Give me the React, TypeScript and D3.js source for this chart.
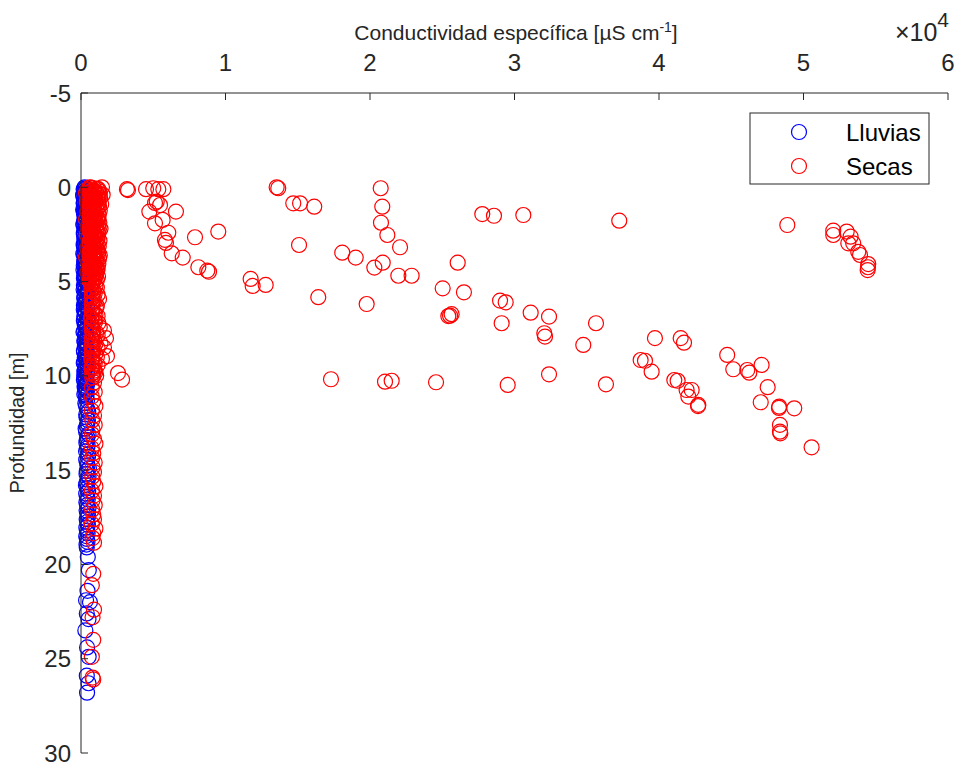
import React from "react";
import * as d3 from "d3";

// ---------- data ----------
// [conductividad específica (µS/cm), profundidad (m)]
const lluvias: [number, number][] = [
  [250,0.0],[180,0.1],[320,0.2],[210,0.3],[400,0.35],[150,0.45],[280,0.55],[350,0.65],[200,0.8],[300,0.9],
  [420,1.0],[240,1.1],[190,1.25],[330,1.35],[260,1.5],[380,1.6],[220,1.75],[300,1.9],[170,2.0],[350,2.1],
  [250,2.25],[410,2.4],[200,2.5],[290,2.65],[360,2.8],[230,2.9],[180,3.05],[320,3.2],[270,3.3],[400,3.45],
  [210,3.6],[300,3.75],[250,3.9],[350,4.0],[190,4.15],[280,4.3],[420,4.45],[230,4.6],[310,4.75],[260,4.9],
  [380,5.05],[200,5.2],[330,5.35],[280,5.5],[450,5.65],[240,5.8],[360,5.95],[300,6.1],[200,6.25],[420,6.4],
  [270,6.55],[350,6.7],[230,6.85],[480,7.0],[310,7.15],[260,7.3],[400,7.45],[220,7.6],[340,7.75],[290,7.9],
  [450,8.05],[250,8.2],[370,8.35],[300,8.5],[200,8.65],[420,8.8],[280,8.95],[350,9.1],[240,9.25],[460,9.4],
  [310,9.55],[260,9.7],[390,9.85],[220,10.0],[340,10.15],[290,10.3],[430,10.45],[250,10.6],[360,10.75],[300,10.9],
  [380,11.05],[420,11.3],[350,11.6],[500,11.9],[380,12.2],[450,12.5],[320,12.8],[520,13.1],[400,13.4],[460,13.7],
  [350,14.0],[480,14.3],[420,14.6],[550,14.9],[380,15.2],[470,15.5],[340,15.8],[500,16.1],[430,16.4],[370,16.7],
  [520,17.0],[450,17.3],[390,17.6],[480,17.9],[420,18.2],[360,18.5],[450,18.8],[400,19.1],[470,19.6],[540,20.3],
  [450,21.4],[350,21.9],[620,22.0],[400,22.6],[520,22.9],[300,23.5],[420,24.4],[530,24.9],[400,25.9],[520,26.3],
  [420,26.8],
  [330,0.05],[220,0.15],[280,0.25],[160,0.4],[360,0.5],[240,0.6],[300,0.72],[180,0.85],[390,0.95],[260,1.05],
  [150,1.18],[340,1.3],[210,1.42],[290,1.55],[400,1.68],[230,1.8],[170,1.95],[320,2.05],[260,2.18],[380,2.3],
  [190,2.42],[300,2.58],[230,2.72],[410,2.85],[280,2.98],[200,3.12],[350,3.25],[240,3.38],[160,3.52],[310,3.68],
  [380,3.82],[220,3.95],[280,4.08],[340,4.22],[170,4.38],[360,4.52],[250,4.68],[200,4.82],[300,4.98],[420,5.12],
  [240,5.28],[180,5.42],[370,5.58],[290,5.72],[220,5.88],[330,6.02],[260,6.18],[400,6.32],[190,6.48],[310,6.62],
  [250,6.78],[440,6.92],[200,7.08],[330,7.22],[280,7.38],[360,7.52],[170,7.68],[300,7.82],[420,7.98],[230,8.12],
  [330,8.28],[270,8.42],[390,8.58],[210,8.72],[320,8.88],[260,9.02],[400,9.18],[190,9.32],[340,9.48],[280,9.62],
  [230,9.78],[430,9.92],[300,10.08],[200,10.22],[370,10.38],[260,10.52],[320,10.68],[410,10.82],[230,10.98],[350,11.12],
  [300,11.45],[430,11.75],[360,12.05],[480,12.35],[400,12.65],[350,12.95],[440,13.25],[370,13.55],[420,13.85],[500,14.15],
  [360,14.45],[450,14.75],[400,15.05],[520,15.35],[380,15.65],[440,15.95],[360,16.25],[470,16.55],[420,16.85],[390,17.15],
  [500,17.45],[430,17.75],[370,18.05],[460,18.35],[410,18.65],[380,18.95],
];

const secasColumna: [number, number][] = [
  [600,0.0],[900,0.05],[1200,0.1],[450,0.15],[750,0.2],[1050,0.25],[350,0.3],[1300,0.35],[650,0.4],[950,0.5],
  [500,0.55],[1150,0.6],[800,0.7],[400,0.75],[1000,0.85],[700,0.9],[1250,1.0],[550,1.05],[850,1.15],[1100,1.2],
  [450,1.3],[750,1.4],[950,1.5],[600,1.55],[1200,1.65],[350,1.7],[900,1.8],[700,1.9],[1050,2.0],[500,2.1],
  [800,2.2],[1150,2.3],[650,2.4],[400,2.5],[950,2.6],[750,2.7],[1100,2.8],[550,2.9],[850,3.0],[1000,3.1],
  [450,3.2],[700,3.3],[1200,3.4],[600,3.5],[900,3.6],[350,3.7],[1050,3.8],[750,3.9],[500,4.0],[950,4.1],
  [650,4.2],[1150,4.3],[800,4.4],[450,4.5],[1000,4.6],[700,4.7],[550,4.85],[900,4.95],[1450,0.0],[1500,0.4],
  [1400,0.9],[1350,2.2],[1300,3.6],
  [700,0.02],[1100,0.08],[520,0.12],[880,0.18],[1280,0.22],[620,0.28],[980,0.33],[760,0.38],[1180,0.43],[560,0.47],
  [840,0.52],[1320,0.57],[680,0.62],[1020,0.67],[470,0.72],[900,0.77],[1210,0.82],[630,0.87],[1080,0.93],[780,0.97],
  [530,1.02],[1160,1.08],[920,1.12],[660,1.18],[1300,1.23],[820,1.27],[490,1.33],[1040,1.37],[720,1.43],[1230,1.47],
  [580,1.52],[960,1.58],[850,1.62],[1120,1.68],[640,1.73],[1010,1.77],[760,1.83],[1270,1.87],[540,1.93],[880,1.97],
  [1180,2.03],[690,2.07],[970,2.13],[560,2.17],[1240,2.23],[830,2.27],[1060,2.33],[610,2.37],[900,2.43],[1200,2.47],
  [720,2.53],[1000,2.57],[520,2.63],[860,2.67],[1150,2.73],[680,2.77],[1280,2.83],[790,2.87],[960,2.93],[600,2.97],
  [1090,3.03],[830,3.07],[1230,3.13],[560,3.17],[940,3.23],[760,3.27],[1130,3.33],[650,3.37],[880,3.43],[1020,3.47],
  [530,3.53],[1170,3.57],[780,3.63],[990,3.67],[620,3.73],[1250,3.77],[860,3.83],[700,3.87],[1080,3.93],[570,3.97],
  [920,4.03],[1200,4.07],[680,4.13],[840,4.17],[1060,4.23],[590,4.27],[960,4.33],[740,4.37],[1130,4.43],[630,4.47],
  [880,4.53],[1050,4.57],[520,4.63],[820,4.67],[1180,4.73],[670,4.77],[970,4.83],[760,4.88],[1100,4.92],[600,4.97],
  [750,5.1],[1000,5.25],[720,5.4],[850,5.55],[1150,5.7],[780,5.85],[950,6.0],[740,6.15],[1100,6.3],[800,6.45],
  [760,6.6],[1000,6.75],[720,6.9],[900,7.05],[1200,7.2],[750,7.35],[740,7.5],[1590,7.6],[1050,7.7],[850,7.85],
  [1730,8.0],[780,8.15],[1000,8.3],[1590,8.5],[730,8.45],[900,8.6],[1800,8.95],[750,8.8],[1100,9.0],[760,9.2],
  [950,9.35],[800,9.5],[740,9.65],[1000,9.8],[850,9.95],[2560,9.85],[2840,10.2],
  [820,5.02],[740,5.17],[1100,5.32],[740,5.47],[950,5.62],[760,5.77],[1250,5.92],[830,6.07],[770,6.22],[1030,6.37],
  [730,6.52],[900,6.67],[1150,6.82],[720,6.97],[980,7.12],[750,7.27],[1300,7.42],[850,7.57],[780,7.72],[1150,7.87],
  [740,8.02],[930,8.17],[1350,8.27],[800,8.37],[1150,8.52],[760,8.67],[1000,8.82],[1450,9.1],[720,9.12],[880,9.27],
  [1150,9.42],[740,9.57],[920,9.72],[770,9.87],[1050,10.0],
  [780,10.1],[900,10.35],[750,10.6],[950,10.85],[750,11.1],[850,11.35],[1000,11.6],[750,11.85],[900,12.1],[780,12.35],
  [950,12.6],[800,12.85],[760,13.1],[900,13.35],[1000,13.6],[750,13.85],[850,14.1],[770,14.35],[950,14.6],[800,14.85],
  [900,15.1],[780,15.35],[850,15.6],[1000,15.85],[750,16.1],[900,16.35],[800,16.6],[950,16.85],[770,17.1],[850,17.35],
  [900,17.6],[750,17.85],[1000,18.1],[850,18.35],[800,18.6],[900,18.85],
  [850,20.5],[750,21.1],[900,22.4],[800,22.8],[850,24.0],[750,24.9],[800,26.0],[850,26.1],
];

const secasDispersos: [number, number][] = [
  [3180,0.1],[3250,0.15],[4500,0.1],[5000,0.05],[5350,0.1],[5700,0.1],[5240,0.76],[5120,0.83],[5470,0.94],[4730,1.29],
  [6570,1.29],[5120,1.91],[5650,1.73],[6040,2.41],[5810,2.79],[5880,2.95],[7890,2.65],[9500,2.35],[6280,3.5],[7040,3.73],
  [8120,4.24],[8740,4.42],[8860,4.48],[13540,0.0],[13650,0.05],[14690,0.85],[15160,0.85],[16140,1.03],[15090,3.06],[11740,4.86],
  [11880,5.23],[12780,5.18],[16420,5.83],[19770,6.19],[20740,0.05],[20850,1.03],[20760,1.88],[21200,2.53],[22080,3.18],[18080,3.47],
  [19010,3.73],[20300,4.26],[20880,4.0],[21960,4.69],[22880,4.69],[25030,5.36],[25420,6.83],[17300,10.18],[21040,10.31],[21500,10.26],
  [24570,10.34],
  [27770,1.42],[28580,1.51],[30610,1.47],[37250,1.77],[26070,4.0],[26500,5.57],[25540,6.81],[25650,6.73],[29000,6.01],[29390,6.1],
  [29110,7.21],[31120,6.65],[32390,6.86],[32060,7.74],[32110,7.92],[35640,7.21],[34760,8.36],[39720,8.0],[38730,9.16],[39030,9.2],
  [39490,9.78],[29530,10.48],[32390,9.92],[36330,10.45],
  [48880,2.0],[52060,2.3],[52060,2.53],[52990,2.35],[53260,2.62],[53100,2.97],[53440,2.97],[53790,3.42],[53910,3.59],[54480,4.07],
  [54440,4.39],[54460,4.24],[41500,8.0],[41730,8.24],[44720,8.89],[45140,9.65],[46110,9.69],[46250,9.83],[47100,9.42],[41060,10.22],
  [41290,10.26],[41910,10.75],[42260,10.75],[42030,11.1],[42720,11.54],[42700,11.6],[47520,10.6],[47040,11.4],[48320,11.63],[48300,11.7],
  [49360,11.72],[48370,12.6],[48370,12.96],[48400,13.05],[50560,13.79],
];

const xTicks = [0, 10000, 20000, 30000, 40000, 50000, 60000];
const xTickLabels = ["0", "1", "2", "3", "4", "5", "6"];
const yTicks = [-5, 0, 5, 10, 15, 20, 25, 30];
const legendItems = [
  { label: "Lluvias", color: "#0000ff" },
  { label: "Secas", color: "#ff0000" },
];

// ---------- chart ----------
const W = 962;
const H = 768;
const left = 81;
const right = 948;
const top = 93;
const bottom = 753;
const axisColor = "#262626";
const font = "'Liberation Sans', Arial, Helvetica, sans-serif";

export default function App() {
  const x = d3.scaleLinear().domain([0, 60000]).range([left, right]);
  const y = d3.scaleLinear().domain([-5, 30]).range([top, bottom]);
  const r = 7.5;
  const secas = [...secasColumna, ...secasDispersos];

  return (
    <svg
      width={W}
      height={H}
      style={{ position: "absolute", left: 0, top: 0, background: "#fff" }}
      fontFamily={font}
    >
      <rect x={0} y={0} width={W} height={H} fill="#fff" />
      {/* markers */}
      <g fill="none" stroke="#0000ff" strokeWidth={1.2}>
        {lluvias.map((d, i) => (
          <circle key={i} cx={x(d[0])} cy={y(d[1])} r={r} />
        ))}
      </g>
      <g fill="none" stroke="#ff0000" strokeWidth={1.2}>
        {secas.map((d, i) => (
          <circle key={i} cx={x(d[0])} cy={y(d[1])} r={r} />
        ))}
      </g>

      {/* top x axis */}
      <line x1={left} x2={right} y1={top} y2={top} stroke={axisColor} strokeWidth={1} />
      {xTicks.map((t, i) => (
        <g key={t}>
          <line x1={x(t)} x2={x(t)} y1={top} y2={top + 7} stroke={axisColor} strokeWidth={1} />
          <text x={x(t)} y={71} textAnchor="middle" fontSize={24} fill={axisColor}>
            {xTickLabels[i]}
          </text>
        </g>
      ))}
      <text x={949} y={41} textAnchor="end" fontSize={25} fill={axisColor}>
        ×10<tspan dy={-14} fontSize={21}>4</tspan>
      </text>
      <text x={516} y={40} textAnchor="middle" fontSize={21} fill={axisColor}>
        Conductividad específica [µS cm
        <tspan dy={-8} fontSize={14}>-1</tspan>
        <tspan dy={8}>]</tspan>
      </text>

      {/* left y axis */}
      <line x1={left} x2={left} y1={top} y2={bottom} stroke={axisColor} strokeWidth={1} />
      {yTicks.map((t) => (
        <g key={t}>
          <line x1={left} x2={left + 7} y1={y(t)} y2={y(t)} stroke={axisColor} strokeWidth={1} />
          <text x={71} y={y(t) + 8.5} textAnchor="end" fontSize={24} fill={axisColor}>
            {t}
          </text>
        </g>
      ))}
      <text
        transform={`translate(24, ${(top + bottom) / 2}) rotate(-90)`}
        textAnchor="middle"
        fontSize={20}
        fill={axisColor}
      >
        Profundidad [m]
      </text>

      {/* legend */}
      <rect x={750} y={113} width={179} height={71} fill="#fff" stroke={axisColor} strokeWidth={1} />
      {legendItems.map((d, i) => (
        <g key={d.label}>
          <circle cx={799} cy={132 + i * 34} r={r} fill="none" stroke={d.color} strokeWidth={1.2} />
          <text x={846} y={132 + i * 34 + 8.5} fontSize={24} fill="#000">
            {d.label}
          </text>
        </g>
      ))}
    </svg>
  );
}
